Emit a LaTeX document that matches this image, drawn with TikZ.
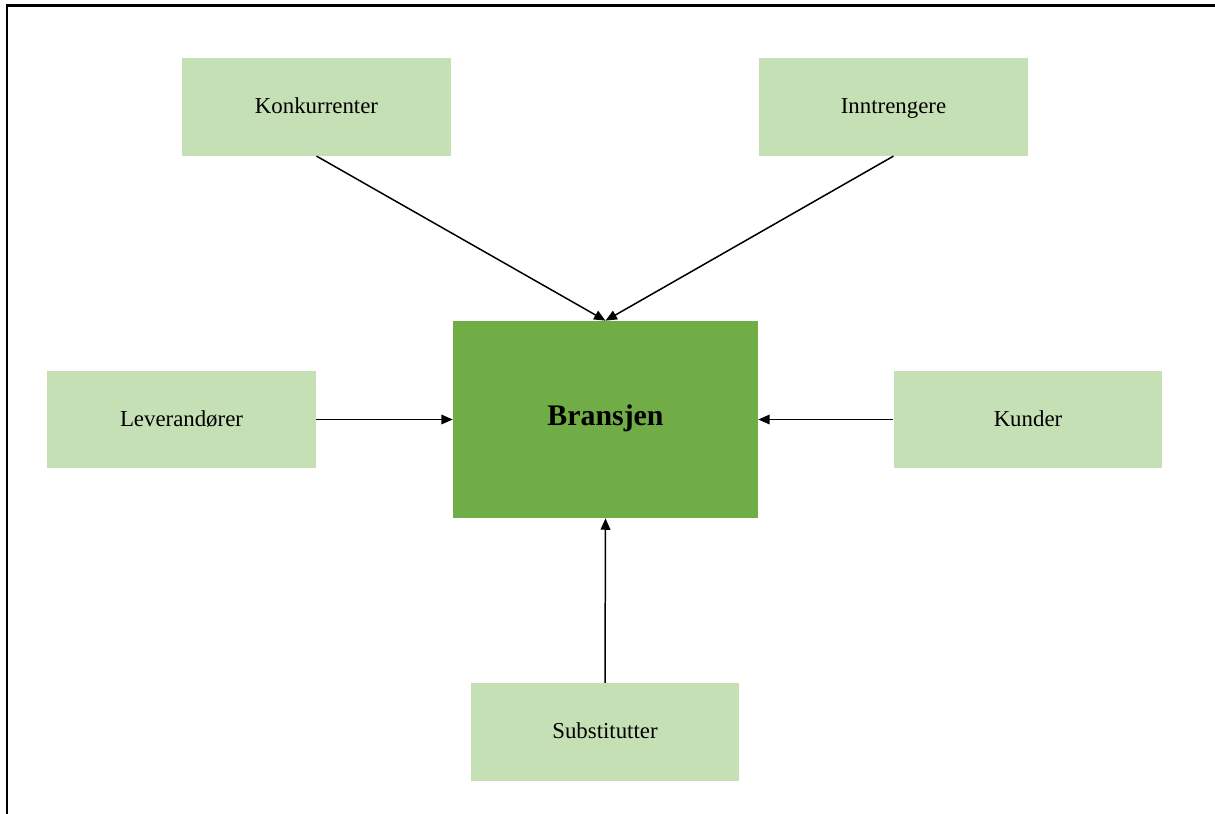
\documentclass[tikz,border=0pt]{standalone}
\usepackage{fontspec}
\setmainfont{Liberation Serif}
\definecolor{LightGreen}{RGB}{197,224,180}
\definecolor{DarkGreen}{RGB}{112,173,71}
\usepackage{tikz}
\usetikzlibrary{arrows.meta, positioning}

\begin{document}
\begin{tikzpicture}[x=0.02cm, y=-0.02cm,
      force/.style={fill=LightGreen, minimum width=5.38cm, minimum height=1.95cm,
                    align=center, font=\fontsize{13}{15}\selectfont, inner sep=0pt,
                    text height=1.95ex, text depth=0.25ex},
      core/.style={fill=DarkGreen, minimum width=6.1cm, minimum height=3.94cm,
                   align=center, font=\fontsize{17}{20}\selectfont\bfseries, inner sep=0pt,
                   text height=2ex, text depth=0.5ex},
      push/.style={draw=black, line width=0.85pt, -{Triangle[length=6.5pt,width=5.5pt]}}
    ]
      \useasboundingbox (0,0) rectangle (1215,814);
      \draw[line width=1.4pt] (7,814) -- (7,5.5) -- (1215,5.5);

      \node[core]  (bransjen) at (605.5,419.5) {Bransjen};
      \node[force] (konk)  at (316.5,107)   {Konkurrenter};
      \node[force] (inntr) at (893.5,107)   {Inntrengere};
      \node[force] (lev)   at (181.5,419.5) {Leverandører};
      \node[force] (kund)  at (1028,419.5)  {Kunder};
      \node[force] (subst) at (605,732)     {Substitutter};

      \draw[push] (konk.south)  -- (bransjen.north);
      \draw[push] (inntr.south) -- (bransjen.north);
      \draw[push] (lev.east)    -- (bransjen.west);
      \draw[push] (kund.west)   -- (bransjen.east);
      \draw[push] (subst.north) -- (bransjen.south);
    \end{tikzpicture}
\end{document}
